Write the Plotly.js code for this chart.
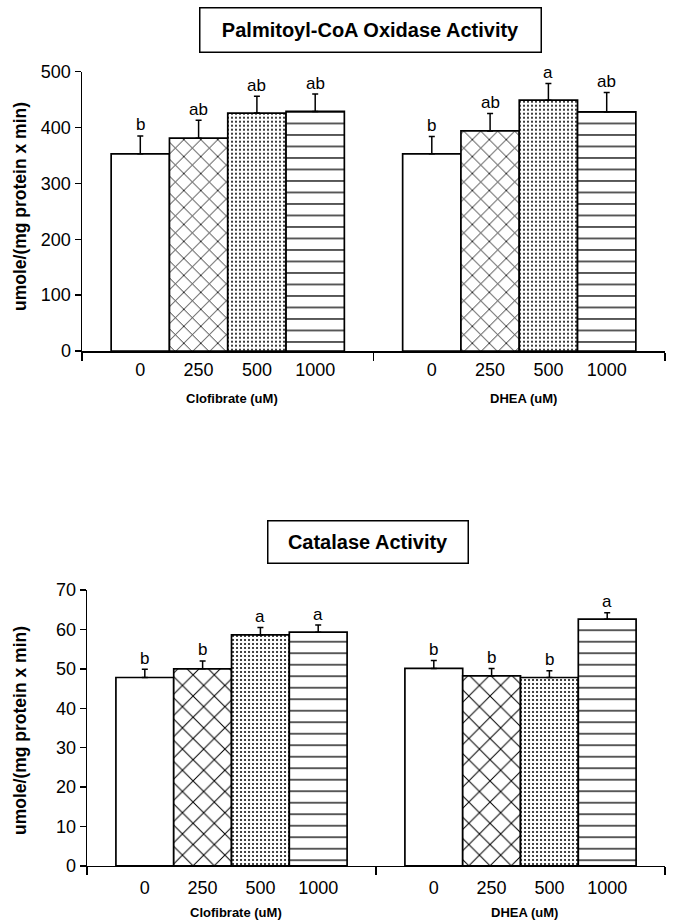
<!DOCTYPE html>
<html>
<head>
<meta charset="utf-8">
<script src="https://cdn.plot.ly/plotly-3.0.1.min.js"></script>
<style>html,body{margin:0;padding:0;background:#fff;}#chart{width:675px;height:923px;}</style>
</head>
<body>
<div id="chart"></div>
<script>
// ---- data ----
const groups = ["Clofibrate (uM)", "DHEA (uM)"];
const doses = ["0", "250", "500", "1000"];

const pcoTitle = "Palmitoyl-CoA Oxidase Activity";
const pcoClofibrate = [353, 381, 426, 429];
const pcoClofibrateErr = [32, 32, 30, 31];
const pcoDHEA = [353, 394, 449, 428];
const pcoDHEAErr = [31, 31, 30, 35];
const pcoClofibrateLetters = ["b", "ab", "ab", "ab"];
const pcoDHEALetters = ["b", "ab", "a", "ab"];

const catTitle = "Catalase Activity";
const catClofibrate = [47.8, 50.0, 58.6, 59.3];
const catClofibrateErr = [2.1, 2.0, 1.9, 1.8];
const catDHEA = [50.1, 48.2, 47.8, 62.6];
const catDHEAErr = [2.0, 1.9, 1.7, 1.6];
const catClofibrateLetters = ["b", "b", "a", "a"];
const catDHEALetters = ["b", "b", "b", "a"];

const yLabel = "umole/(mg protein x min)";

// ---- helpers ----
const FONT = "Liberation Sans, Arial, Helvetica, sans-serif";
// slot position of a bar: group g, dose i  (groups separated by one empty slot)
function pos(g, i) { return g * (doses.length + 1) + i + 1; }
const groupCenter = g => g * (doses.length + 1) + (doses.length + 1) / 2;

function patternFor(i, xsize) {
  if (i === 0) return { shape: "" };
  if (i === 1) return { shape: "x", size: xsize, solidity: 0.13, fgcolor: "#000", bgcolor: "#fff", fillmode: "replace" };
  if (i === 2) return { shape: ".", size: 4, solidity: 0.2, fgcolor: "#000", bgcolor: "#fff", fillmode: "replace" };
  return { shape: "-", size: 11.5, solidity: 0.11, fgcolor: "#000", bgcolor: "#fff", fillmode: "replace" };
}

const traces = [];
const annotations = [];

function addChart(xa, ya, valsA, errA, valsB, errB, lettA, lettB, xsize, gshift) {
  const xref = xa;
  const yref = ya;
  for (let i = 0; i < doses.length; i++) {
    traces.push({
      type: "bar",
      x: [pos(0, i), pos(1, i)],
      y: [valsA[i], valsB[i]],
      width: 1,
      xaxis: xref, yaxis: yref,
      marker: { color: "#fff", line: { color: "#000", width: 1.7 }, pattern: patternFor(i, xsize) },
      error_y: { type: "data", symmetric: false, array: [errA[i], errB[i]], arrayminus: [0, 0],
                 color: "#000", thickness: 1.5, width: 3 },
      hoverinfo: "skip"
    });
    [[0, valsA, errA, lettA], [1, valsB, errB, lettB]].forEach(([g, v, e, l]) => {
      annotations.push({
        xref: xref, yref: yref, x: pos(g, i), y: v[i] + e[i],
        text: l[i], showarrow: false, yanchor: "middle", yshift: 11,
        font: { family: FONT, size: 17, color: "#000" }
      });
    });
  }
  groups.forEach((gname, g) => {
    annotations.push({
      xref: xref, yref: yref + " domain", x: groupCenter(g), y: 0,
      text: "<b>" + gname + "</b>", showarrow: false, yanchor: "middle", yshift: gshift, xshift: 4,
      font: { family: FONT, size: 13, color: "#000" }
    });
  });
}

addChart("x", "y", pcoClofibrate, pcoClofibrateErr, pcoDHEA, pcoDHEAErr, pcoClofibrateLetters, pcoDHEALetters, 12, -47);
addChart("x2", "y2", catClofibrate, catClofibrateErr, catDHEA, catDHEAErr, catClofibrateLetters, catDHEALetters, 15, -47);

// titles in boxes
annotations.push({
  xref: "paper", yref: "paper", x: 0.4957, y: 0.967, xanchor: "center", yanchor: "middle",
  text: "<b>" + pcoTitle + "</b>", showarrow: false, width: 338, height: 41, borderpad: 1,
  bordercolor: "#000", borderwidth: 1.5, bgcolor: "#fff",
  font: { family: FONT, size: 20, color: "#000" }
});
annotations.push({
  xref: "paper", yref: "paper", x: 0.4914, y: 0.4133, xanchor: "center", yanchor: "middle",
  text: "<b>" + catTitle + "</b>", showarrow: false, width: 197, height: 39, borderpad: 1,
  bordercolor: "#000", borderwidth: 1.5, bgcolor: "#fff",
  font: { family: FONT, size: 20, color: "#000" }
});
// y-axis labels
[["y", 207], ["y2", 731]].forEach(([ya, cy]) => {
  annotations.push({
    xref: "paper", yref: "paper", x: (20 - 82) / 583, y: 1 - cy / 923, xanchor: "center", yanchor: "middle",
    text: "<b>" + yLabel + "</b>", textangle: -90, showarrow: false,
    font: { family: FONT, size: 17.5, color: "#000" }
  });
});

const slotMax = groups.length * (doses.length + 1);
const tickPos = [];
groups.forEach((g, gi) => doses.forEach((d, i) => tickPos.push(pos(gi, i))));
const tickTxt = [];
groups.forEach(() => doses.forEach(d => tickTxt.push(d)));
const sepTicks = [];
for (let g = 0; g <= groups.length; g++) sepTicks.push(g * (doses.length + 1));

function xAxis(domain, anchor, standoff) {
  return {
    domain: domain, anchor: anchor, range: [0, slotMax], fixedrange: true,
    tickmode: "array", tickvals: tickPos, ticktext: tickTxt, ticks: "",
    ticklabelstandoff: standoff,
    tickfont: { family: FONT, size: 18, color: "#000" },
    showline: true, linecolor: "#000", linewidth: 1.5, showgrid: false, zeroline: false,
    minor: { tickmode: "array", tickvals: sepTicks, ticks: "outside", ticklen: 8, tickwidth: 1.5, tickcolor: "#000", showgrid: false }
  };
}
function yAxis(domain, anchor, range, dtick) {
  return {
    domain: domain, anchor: anchor, range: range, dtick: dtick, fixedrange: true,
    ticks: "outside", ticklen: 6, tickwidth: 1.5, tickcolor: "#000",
    tickfont: { family: FONT, size: 18, color: "#000" },
    showline: true, linecolor: "#000", linewidth: 1.5, showgrid: false, zeroline: false
  };
}

const layout = {
  width: 675, height: 923,
  margin: { l: 82, r: 10, t: 0, b: 0 },
  paper_bgcolor: "#fff", plot_bgcolor: "#fff",
  showlegend: false, barmode: "overlay",
  xaxis: xAxis([0, 1], "y", 2),
  yaxis: yAxis([0.6197, 0.9223], "x", [0, 500], 100),
  xaxis2: xAxis([0.0086, 1], "y2", 5),
  yaxis2: yAxis([0.0618, 0.3608], "x2", [0, 70], 10),
  annotations: annotations,
  font: { family: FONT, color: "#000" }
};

Plotly.newPlot("chart", traces, layout, { displayModeBar: false, staticPlot: true });
</script>
</body>
</html>
